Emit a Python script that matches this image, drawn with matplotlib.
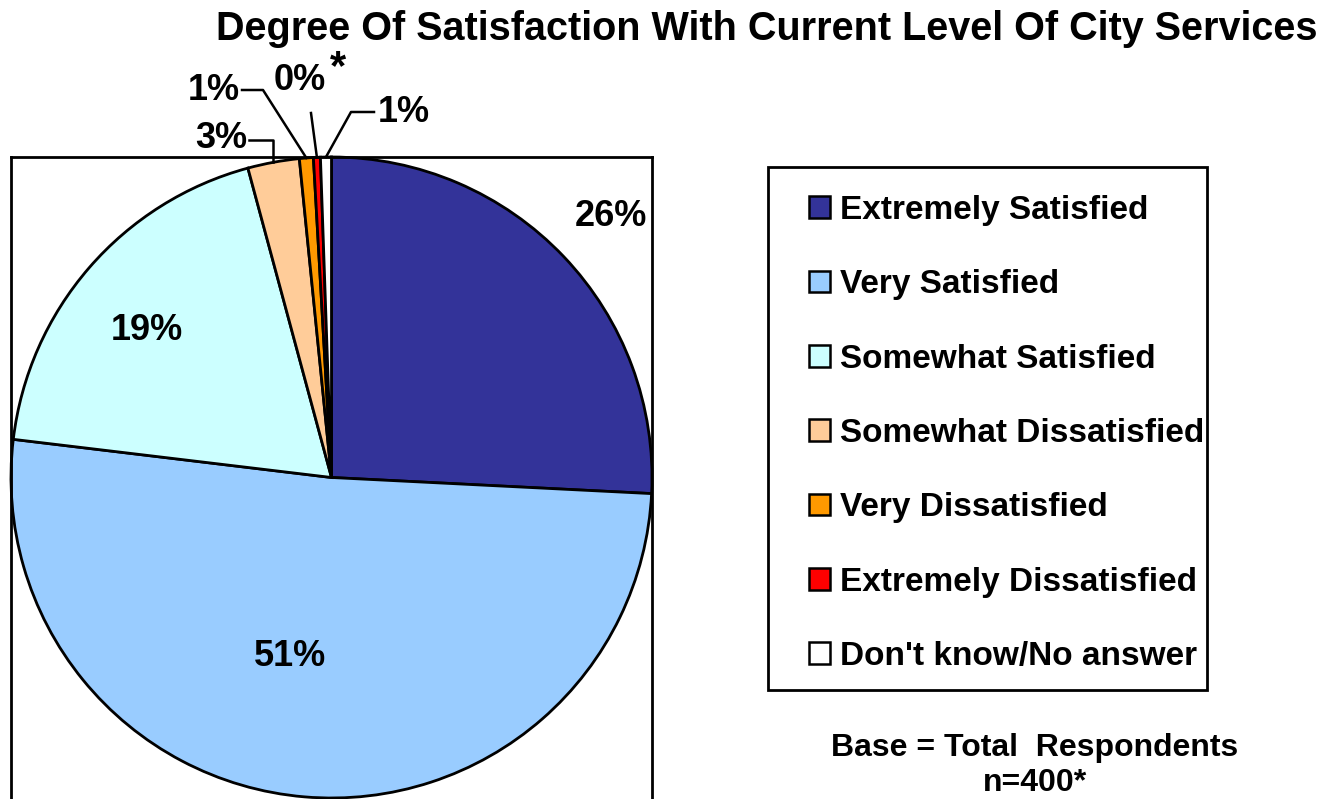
import matplotlib
matplotlib.use("Agg")
import matplotlib.pyplot as plt
from matplotlib.patches import Rectangle
import numpy as np

categories = ["Extremely Satisfied", "Very Satisfied", "Somewhat Satisfied",
              "Somewhat Dissatisfied", "Very Dissatisfied",
              "Extremely Dissatisfied", "Don't know/No answer"]
shares = [25.8, 51.1, 18.9, 2.6, 0.7, 0.35, 0.55]
labels = ["26%", "51%", "19%", "3%", "1%", "0%", "1%"]
colors = ["#333399", "#99CCFF", "#CCFFFF", "#FFCC99", "#FF9900", "#FF0000", "#FFFFFF"]

plt.rcParams['font.family'] = ['Liberation Sans', 'DejaVu Sans']
plt.rcParams['font.weight'] = 'bold'

W, H = 1329, 799
fig = plt.figure(figsize=(W / 100, H / 100), dpi=100)

# axes box in pixels
L, R, T = 11, 652, 157
B = 830  # extends below figure
ax = fig.add_axes([L / W, 1 - B / H, (R - L) / W, (B - T) / H])
wedges, _ = ax.pie(shares, colors=colors, startangle=90, counterclock=False,
                   wedgeprops=dict(edgecolor="black", linewidth=2.0))
ax.set_aspect('auto')
scale = 2.0 / (R - L)
ax.set_xlim(-1, 1)
ax.set_ylim(1 - (B - T) * scale, 1)
ax.set_frame_on(True)
for s in ax.spines.values():
    s.set_linewidth(2.0)
    s.set_color("black")
ax.spines['bottom'].set_visible(False)
ax.set_xticks([]); ax.set_yticks([])

cx, cy = (L + R) / 2, T + (R - L) / 2


def p2d(px, py):
    return (px - cx) * scale, (cy - py) * scale


fs_lab = 26
# inside / near labels
inner_pos = {0: (611, 217), 1: (290, 657), 2: (147, 331)}
for i, (px, py) in inner_pos.items():
    ax.text(*p2d(px, py), labels[i], ha='center', va='center', fontsize=fs_lab,
            fontweight='bold', clip_on=False)


def mid_edge(i):
    w = wedges[i]
    a = np.deg2rad((w.theta1 + w.theta2) / 2)
    return np.cos(a), np.sin(a)


lw_lead = 1.8
# 3%
ax.text(*p2d(221, 139), labels[3], ha='center', va='center', fontsize=fs_lab, clip_on=False)
ex, ey = mid_edge(3)
x0, y0 = p2d(249, 140)
ax.plot([x0, ex, ex], [y0, y0, ey], color='black', lw=lw_lead, clip_on=False)
# 1% very dissatisfied
ax.text(*p2d(214, 90), labels[4], ha='center', va='center', fontsize=fs_lab, clip_on=False)
ex, ey = mid_edge(4)
x0, y0 = p2d(242, 90)
x1, _ = p2d(263, 90)
ax.plot([x0, x1, ex], [y0, y0, ey], color='black', lw=lw_lead, clip_on=False)
# 0%* extremely dissatisfied
ax.text(*p2d(300, 81), labels[5], ha='center', va='center', fontsize=fs_lab, clip_on=False)
ax.text(*p2d(338, 68), "*", ha='center', va='center', fontsize=30, clip_on=False)
ex, ey = mid_edge(5)
x0, y0 = p2d(311, 113)
ax.plot([x0, ex], [y0, ey], color='black', lw=lw_lead, clip_on=False)
# 1% don't know
ax.text(*p2d(404, 112), labels[6], ha='center', va='center', fontsize=fs_lab, clip_on=False)
ex, ey = mid_edge(6)
x0, y0 = p2d(374, 112)
x1, _ = p2d(351, 112)
ax.plot([x0, x1, ex], [y0, y0, ey], color='black', lw=lw_lead, clip_on=False)

# title
fig.text(767 / W, 1 - 29 / H, "Degree Of Satisfaction With Current Level Of City Services",
         ha='center', va='center', fontsize=28.5, fontweight='bold')

# legend (frame drawn separately)
leg = fig.legend(wedges, categories, loc='upper left',
                 bbox_to_anchor=(809 / W, 1 - 195 / H), fontsize=24,
                 frameon=False,
                 handlelength=0.62, handleheight=0.62, handletextpad=0.3,
                 labelspacing=1.3, borderpad=0.0, borderaxespad=0)
for h in leg.legend_handles:
    h.set_linewidth(1.8)
fig.patches.append(Rectangle((768 / W, 1 - 690 / H), (1207 - 768) / W, (690 - 167) / H,
                             transform=fig.transFigure, fill=False,
                             edgecolor='black', linewidth=2.0))

fig.text(1035 / W, 1 - 748 / H, "Base = Total  Respondents", ha='center', va='center',
         fontsize=23, fontweight='bold')
fig.text(1035 / W, 1 - 783 / H, "n=400*", ha='center', va='center',
         fontsize=23, fontweight='bold')

fig.savefig("out.png", dpi=100)
